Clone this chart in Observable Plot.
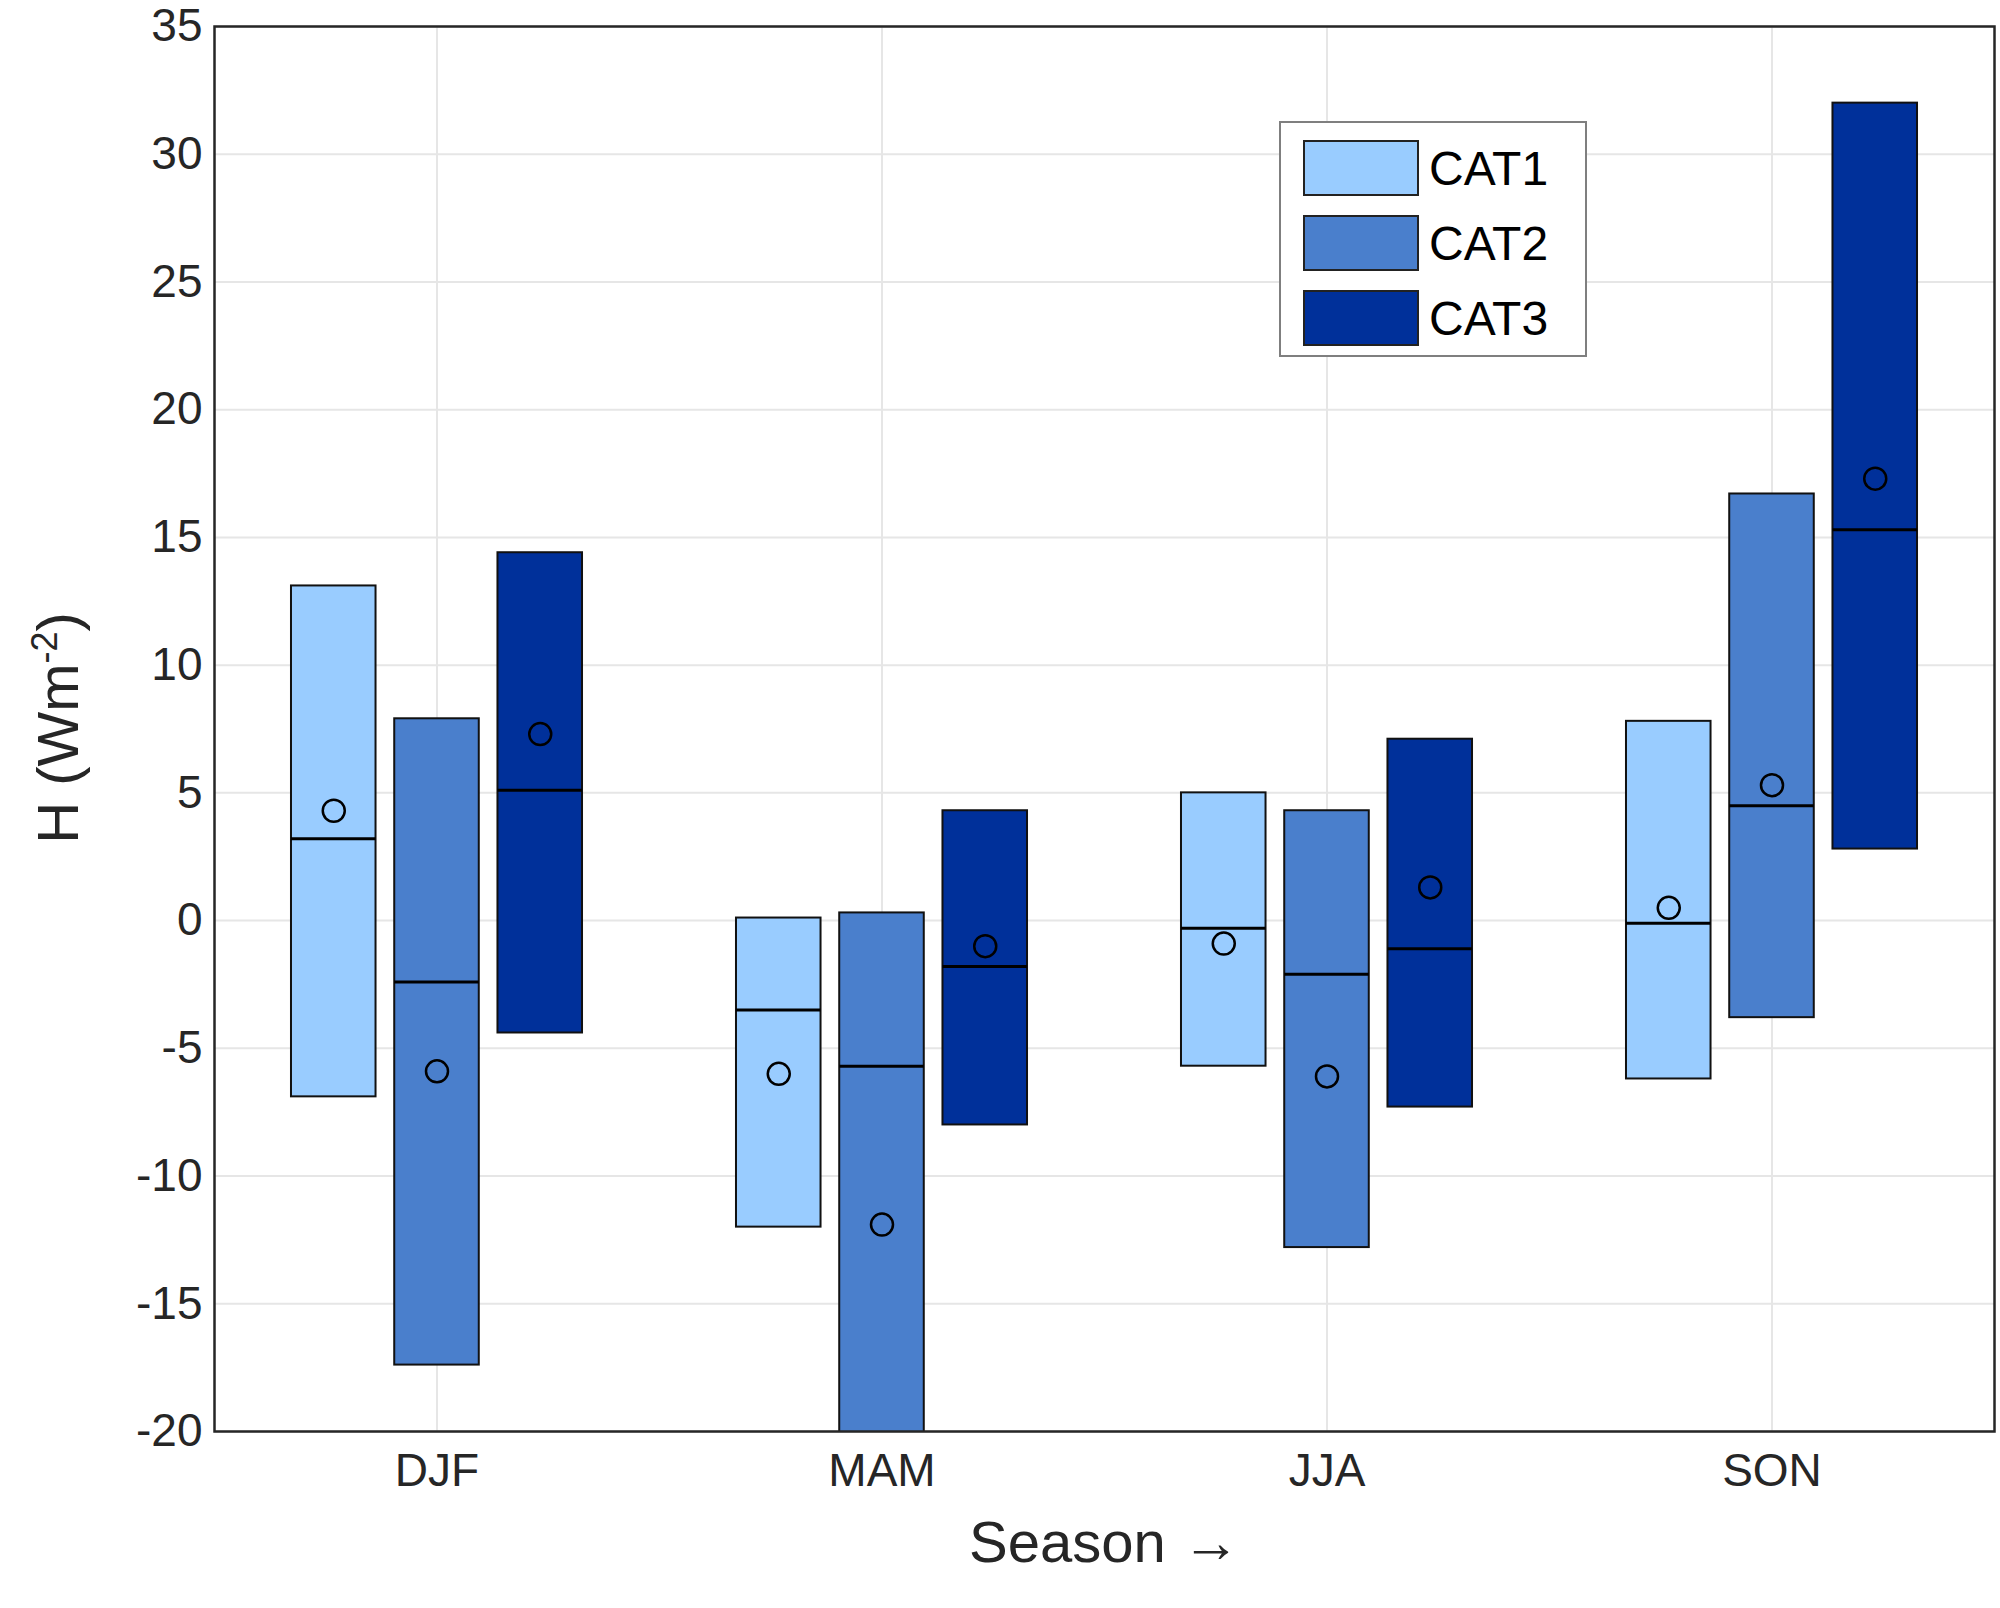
<!DOCTYPE html>
<html><head><meta charset="utf-8">
<script src="https://cdn.jsdelivr.net/npm/d3@7"></script>
<script src="https://cdn.jsdelivr.net/npm/@observablehq/plot@0.6"></script>
<style>
body{margin:0;background:#fff;font-family:"Liberation Sans",Arial,sans-serif;}
#wrap{position:relative;width:2000px;height:1608px;}
#ylab{position:absolute;left:57px;top:728px;transform:translate(-50%,-50%) rotate(-90deg);font-size:58px;color:#262626;white-space:nowrap;}
#ylab sup{font-size:36px;}
#legend{position:absolute;left:1279px;top:121px;width:308px;height:236px;border:2px solid #7f7f7f;background:#fff;box-sizing:border-box;}
.li{position:absolute;left:22px;display:flex;align-items:center;font-size:48px;color:#000;}
.sw{width:116px;height:56px;border:2px solid #222;box-sizing:border-box;margin-right:10px;}
</style></head><body>
<div id="wrap"><div id="chart"></div>
<div id="ylab">H (Wm<sup>-2</sup>)</div>
<div id="legend"></div></div>
<script>
const seasons = ["DJF","MAM","JJA","SON"];
const cats = ["CAT1","CAT2","CAT3"];
const colors = ["#99ccff","#4a7fcc","#00309a"];
const boxLow  = [[-6.9,-17.4,-4.4],[-12.0,-20.5,-8.0],[-5.7,-12.8,-7.3],[-6.2,-3.8,2.8]];
const boxHigh = [[13.1,7.9,14.4],[0.1,0.3,4.3],[5.0,4.3,7.1],[7.8,16.7,32.0]];
const medians = [[3.2,-2.4,5.1],[-3.5,-5.7,-1.8],[-0.3,-2.1,-1.1],[-0.1,4.5,15.3]];
const means   = [[4.3,-5.9,7.3],[-6.0,-11.9,-1.0],[-0.9,-6.1,1.3],[0.5,5.3,17.3]];
const yTicks = [-20,-15,-10,-5,0,5,10,15,20,25,30,35];

const offsets = [-0.232,0,0.232], half = 0.095;
const rows = [];
seasons.forEach((s,i)=>cats.forEach((c,j)=>rows.push({
  s, c, xc:i+1+offsets[j], lo:boxLow[i][j], hi:boxHigh[i][j], med:medians[i][j], mean:means[i][j]})));

const plot = Plot.plot({
  width:2000, height:1608,
  marginLeft:214, marginRight:6, marginTop:26, marginBottom:177,
  style:{fontSize:"46px", fontFamily:"Liberation Sans, Arial, sans-serif", color:"#262626"},
  x:{domain:[0.5,4.5], ticks:[1,2,3,4], tickFormat:d=>seasons[d-1], tickSize:0, tickPadding:22, label:"Season", labelAnchor:"center", labelOffset:130},
  y:{domain:[-20,35], ticks:yTicks, tickFormat:d=>String(d), tickSize:0, tickPadding:12, label:null},
  color:{domain:cats, range:colors},
  marks:[
    Plot.gridX([1,2,3,4],{stroke:"#e6e6e6", strokeOpacity:1, strokeWidth:2}),
    Plot.gridY(yTicks,{stroke:"#e6e6e6", strokeOpacity:1, strokeWidth:2}),
    Plot.rect(rows,{x1:d=>d.xc-half, x2:d=>d.xc+half, y1:"lo", y2:"hi", fill:"c", stroke:"#111", strokeWidth:2, clip:true}),
    Plot.ruleY(rows,{y:"med", x1:d=>d.xc-half, x2:d=>d.xc+half, stroke:"#000", strokeWidth:3}),
    Plot.dot(rows,{x:"xc", y:"mean", r:11, stroke:"#000", strokeWidth:2.5, fill:"none"}),
    Plot.frame({stroke:"#262626", strokeWidth:2.5})
  ]
});
plot.querySelectorAll("[aria-label='x-axis label'] text, [aria-label='x-axis label']").forEach(e=>e.setAttribute("font-size","58px"));
document.getElementById("chart").appendChild(plot);
const lg = document.getElementById("legend");
cats.forEach((c,j)=>{
  const d=document.createElement("div"); d.className="li"; d.style.top=(17+j*75)+"px";
  d.innerHTML=`<div class="sw" style="background:${colors[j]}"></div>${c}`;
  lg.appendChild(d);
});
</script></body></html>
